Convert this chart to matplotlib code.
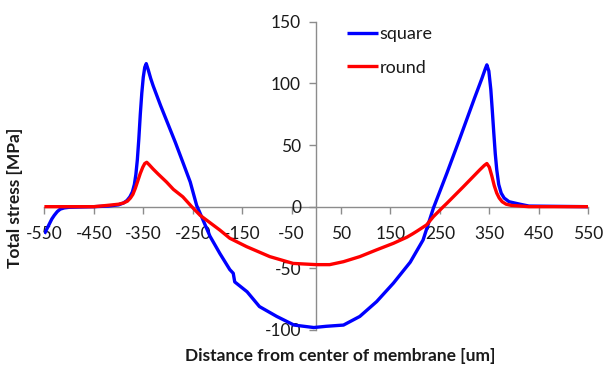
import matplotlib
matplotlib.use("Agg")
import matplotlib.pyplot as plt

plt.rcParams['font.family'] = ['Lato', 'DejaVu Sans']

# Distance from center of membrane [um] and total stress [MPa]
square_x = [-550, -545, -540, -535, -530, -524, -518, -510, -500, -450, -420, -400,
            -390, -383, -377, -372, -368, -365, -362, -359, -356, -353, -350, -347,
            -344, -340, -335, -330, -315, -303, -285, -269, -255, -242, -230,
            -215, -195, -175, -168, -165, -140, -115, -80, -45, -5, 20, 55, 88, 122,
            156, 190, 216, 237, 264, 290, 320, 335, 342, 345, 349, 353, 356, 359,
            362, 365, 369, 374, 380, 390, 412, 430, 550]
square_y = [-22, -18, -14, -10, -7, -4, -2, -1, -0.5, 0, 0.5, 1.5,
            3, 5, 8, 12, 18, 26, 38, 55, 75, 92, 105, 113,
            116, 111, 104, 98, 82, 70, 52, 35, 20, 1, -10,
            -24, -38, -51, -54, -61, -69, -81, -89, -96, -98, -97, -96, -89, -77,
            -62, -45, -27, -1, 27, 55, 88, 104, 112, 115, 110, 95, 78, 60,
            43, 30, 18, 11, 7, 4, 2, 0.5, 0]

round_x = [-550, -450, -424, -400, -390, -382, -376, -371, -366, -361, -356, -351,
           -347, -343, -338, -330, -320, -303, -289, -270, -252, -235, -215, -195,
           -175, -141, -94, -47, 0, 27, 55, 88, 122, 156, 183, 195, 203, 223, 237,
           257, 264, 297, 331, 340, 345, 350, 355, 360, 365, 370, 376, 384, 395,
           430, 550]
round_y = [0, 0, 1, 2, 3, 4.5, 7, 10, 15, 21, 27, 32,
           35, 36, 34, 30.5, 26.5, 20, 14, 8, 0, -7, -13, -19,
           -25.6, -32.4, -40.5, -46, -47, -47, -44.6, -40.5, -35, -29.7, -24.8, -22,
           -20, -14.8, -8, 0, 2.7, 16, 30, 33.5, 35, 32, 25, 17, 11, 7, 4, 2,
           1, 0, 0]

x_ticks = [-550, -450, -350, -250, -150, -50, 50, 150, 250, 350, 450, 550]
y_ticks = [-100, -50, 0, 50, 100, 150]

W, H = 606, 370
fig = plt.figure(figsize=(W / 100, H / 100), dpi=100)
ax = fig.add_axes([44.4 / W, 1 - 330 / H, (588.2 - 44.4) / W, (330 - 21.7) / H])

ax.plot(square_x, square_y, color='#0000FF', lw=2.4, label='square',
        solid_joinstyle='round', solid_capstyle='butt', zorder=3)
ax.plot(round_x, round_y, color='#FF0000', lw=2.4, label='round',
        solid_joinstyle='round', solid_capstyle='butt', zorder=4)

ax.set_xlim(-550, 550)
ax.set_ylim(-100, 150)
ax.set_xticks(x_ticks)
ax.set_yticks(y_ticks)
ax.set_xticklabels([str(v) for v in x_ticks])
ax.set_yticklabels([str(v) for v in y_ticks])

axis_col = '#8C8C8C'
for s in ['top', 'right']:
    ax.spines[s].set_visible(False)
ax.spines['left'].set_position(('data', 0))
ax.spines['bottom'].set_position(('data', 0))
for s in ['left', 'bottom']:
    ax.spines[s].set_color(axis_col)
    ax.spines[s].set_linewidth(1.0)
    ax.spines[s].set_zorder(1)

ax.tick_params(axis='x', direction='out', length=5, width=1, color=axis_col,
               labelsize=12.5, pad=9, labelcolor='#1a1a1a')
ax.tick_params(axis='y', direction='out', length=5, width=1, color=axis_col,
               labelsize=12.5, pad=6, labelcolor='#1a1a1a')
ax.patch.set_alpha(0)

leg = ax.legend(loc='center left', bbox_to_anchor=(347 / W, 1 - 51 / H),
                bbox_transform=fig.transFigure, frameon=False, fontsize=13,
                handlelength=1.7, handletextpad=0.1, labelspacing=0.95,
                borderpad=0, borderaxespad=0)
for t in leg.get_texts():
    t.set_color('#1a1a1a')

fig.text(15 / W, 1 - 198 / H, 'Total stress [MPa]', rotation=90, fontsize=12.5,
         fontweight='bold', ha='center', va='center', color='#1a1a1a')
fig.text(340 / W, 1 - 356 / H, 'Distance from center of membrane [um]', fontsize=12.5,
         fontweight='bold', ha='center', va='center', color='#1a1a1a')

fig.savefig('out.png', dpi=100)
